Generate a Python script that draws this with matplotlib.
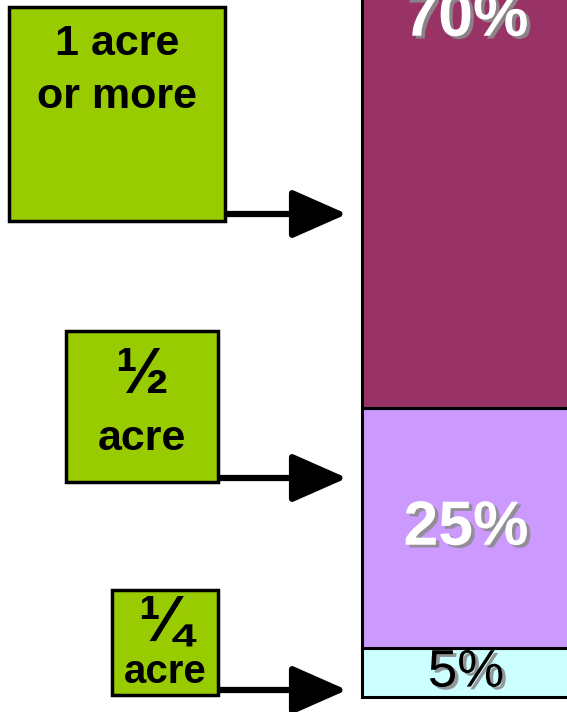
import numpy as np
import matplotlib
matplotlib.use("Agg")
import matplotlib.pyplot as plt
import matplotlib.patheffects as pe
from matplotlib.patches import Rectangle

# data
segments = ["1/4 acre", "1/2 acre", "1 acre or more"]
shares = [5, 25, 70]
seg_colors = ["#CCFFFF", "#CC99FF", "#993366"]
seg_label_colors = ["black", "white", "white"]
seg_label_weights = ["normal", "bold", "bold"]

box_texts = ["1 acre\nor more", "\u00bd\nacre", "\u00bc\nacre"]

plt.rcParams['font.family'] = ['Liberation Sans', 'DejaVu Sans']

fig = plt.figure(figsize=(5.67, 7.12), dpi=100)

# bar axes: x in pixels, y in percent
ax = fig.add_axes([0, 0, 1, 1])
ax.set_xlim(0, 567)
ax.set_ylim(-1.6, 72.4)
ax.axis('off')

bottoms = np.concatenate([[0], np.cumsum(shares)[:-1]])
ax.bar([362] * len(shares), shares, bottom=bottoms, width=260, align='edge',
       color=seg_colors, edgecolor='black', linewidth=2.2, zorder=2)

shadow = [pe.SimplePatchShadow(offset=(2.5, -2), shadow_rgbFace='#8c8c8c', alpha=0.9), pe.Normal()]
for i in range(2):
    ax.text(466, bottoms[i] + shares[i] / 2, f"{shares[i]}%", ha='center', va='center',
            fontsize=45 if i else 38, color=seg_label_colors[i], fontweight=seg_label_weights[i],
            path_effects=shadow, zorder=3)
# top segment is cropped, its label sits near the top edge
ax.text(466, 70.4, f"{shares[2]}%", ha='center', va='center', fontsize=45,
        color=seg_label_colors[2], fontweight=seg_label_weights[2],
        path_effects=shadow, zorder=3)

# annotation axes in pixel coords
ax2 = fig.add_axes([0, 0, 1, 1])
ax2.set_xlim(0, 567)
ax2.set_ylim(712, 0)
ax2.axis('off')
ax2.patch.set_alpha(0)

boxes = [(9, 7, 225, 221), (66, 331, 218, 482), (112, 590, 218, 695)]
arrow_y = [214, 478, 690]

for (x0, y0, x1, y1), ay in zip(boxes, arrow_y):
    ax2.add_patch(Rectangle((x0, y0), x1 - x0, y1 - y0, facecolor='#99CC00',
                            edgecolor='black', linewidth=2.5, zorder=2))
    ax2.annotate('', xy=(347, ay), xytext=(x1, ay),
                 arrowprops=dict(arrowstyle='-|>,head_length=1.7,head_width=0.75',
                                 lw=4.5, color='black', shrinkA=0, shrinkB=0,
                                 mutation_scale=20), zorder=1)

# box texts
ax2.text(117, 55, "1 acre", ha='center', va='baseline', fontsize=31, fontweight='bold')
ax2.text(117, 108, "or more", ha='center', va='baseline', fontsize=31, fontweight='bold')
ax2.text(142, 393, "\u00bd", ha='center', va='baseline', fontsize=46, fontweight='bold')
ax2.text(142, 450, "acre", ha='center', va='baseline', fontsize=31, fontweight='bold')
ax2.text(165, 641, "\u00bc", ha='center', va='baseline', fontsize=46, fontweight='bold')
ax2.text(165, 683, "acre", ha='center', va='baseline', fontsize=29, fontweight='bold')

fig.savefig("out.png", dpi=100)
